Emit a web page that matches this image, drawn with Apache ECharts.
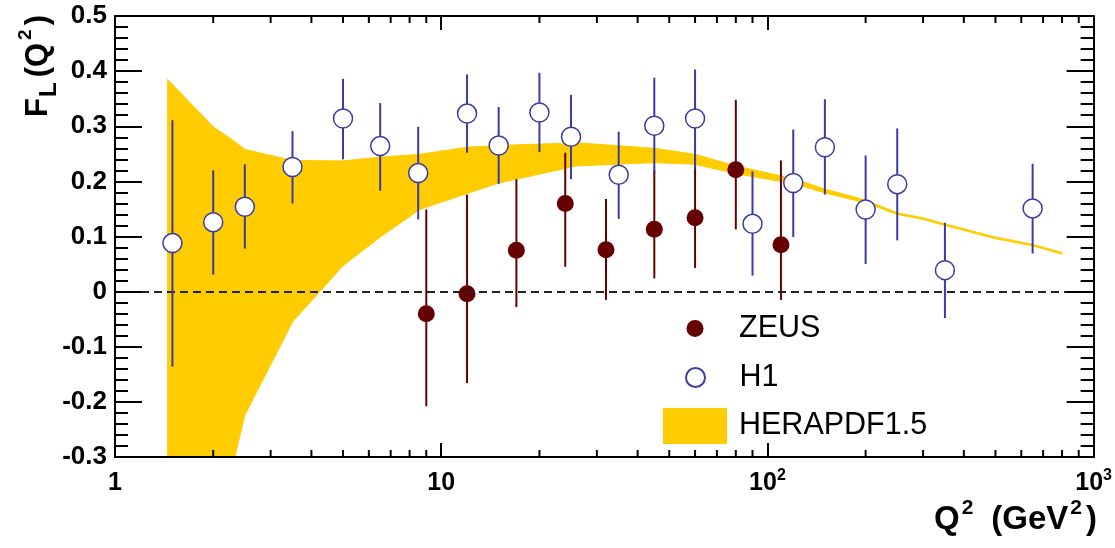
<!DOCTYPE html>
<html>
<head>
<meta charset="utf-8">
<script src="https://cdn.jsdelivr.net/npm/echarts@6/dist/echarts.min.js"></script>
<style>
html,body{margin:0;padding:0;background:#fff;}
#chart{width:1115px;height:548px;}
</style>
</head>
<body>
<div id="chart"></div>
<script>
// ---- data ----
const h1Q2   = [1.5, 2.0, 2.5, 3.5, 5.0, 6.5, 8.5, 12, 15, 20, 25, 35, 45, 60, 90, 120, 150, 200, 250, 350, 650];
const h1FL   = [0.088, 0.126, 0.154, 0.226, 0.314, 0.264, 0.215, 0.323, 0.265, 0.325, 0.281, 0.212, 0.301, 0.314, 0.123, 0.197, 0.262, 0.149, 0.195, 0.039, 0.151];
const h1Low  = [-0.136, 0.031, 0.078, 0.160, 0.240, 0.183, 0.131, 0.252, 0.195, 0.253, 0.204, 0.132, 0.215, 0.223, 0.029, 0.099, 0.176, 0.050, 0.093, -0.048, 0.069];
const h1High = [0.311, 0.220, 0.231, 0.291, 0.386, 0.342, 0.299, 0.394, 0.335, 0.397, 0.357, 0.290, 0.388, 0.403, 0.218, 0.294, 0.349, 0.247, 0.296, 0.125, 0.232];

const zeusQ2   = [9, 12, 17, 24, 32, 45, 60, 80, 110];
const zeusFL   = [-0.040, -0.004, 0.075, 0.160, 0.076, 0.113, 0.134, 0.221, 0.085];
const zeusLow  = [-0.208, -0.166, -0.028, 0.045, -0.015, 0.024, 0.043, 0.113, -0.015];
const zeusHigh = [0.149, 0.176, 0.204, 0.252, 0.168, 0.220, 0.230, 0.348, 0.238];

const bandQ2   = [1.45, 2.0, 2.33, 2.5, 3.5, 5, 6.5, 8.6, 12, 15, 26, 45, 60, 80, 120, 150, 200, 250, 300, 350, 500, 650, 800];
const bandHigh = [0.385, 0.299, 0.272, 0.258, 0.238, 0.237, 0.244, 0.249, 0.262, 0.265, 0.270, 0.260, 0.249, 0.228, 0.205, 0.186, 0.166, 0.143, 0.134, 0.123, 0.099, 0.086, 0.071];
const bandLow  = [-0.3, -0.3, -0.3, -0.224, -0.055, 0.047, 0.099, 0.149, 0.178, 0.197, 0.228, 0.234, 0.231, 0.214, 0.196, 0.179, 0.161, 0.140, 0.131, 0.120, 0.096, 0.083, 0.068];

const xMin = 1, xMax = 1000;
const yMin = -0.3, yMax = 0.5, yStep = 0.1;
const xMinorTicks = [2, 3, 4, 5, 6, 7, 8, 9, 20, 30, 40, 50, 60, 70, 80, 90, 200, 300, 400, 500, 600, 700, 800, 900];

// ---- styles ----
const FONT = 'Liberation Sans, Arial, Helvetica, sans-serif';
const H1_COLOR = '#3b3ba3';
const ZEUS_COLOR = '#660000';
const BAND_COLOR = '#ffcc00';

const chart = echarts.init(document.getElementById('chart'), null, {renderer: 'canvas'});

function errRender(color) {
  return function (params, api) {
    const x = api.value(0), lo = api.value(1), hi = api.value(2);
    const p1 = api.coord([x, lo]), p2 = api.coord([x, hi]);
    return {type: 'line', shape: {x1: p1[0], y1: p1[1], x2: p2[0], y2: p2[1]},
            style: {stroke: color, lineWidth: 2}};
  };
}

const axisLineStyle = {color: '#000', width: 2};
const tickStyle = {color: '#000', width: 2};
const legendText = {fontFamily: FONT, fontSize: 30.5, color: '#000', padding: [0, 0, 0, 7]};

const option = {
  animation: false,
  backgroundColor: '#fff',
  grid: {left: 115, top: 16, width: 981, height: 441, containLabel: false},
  xAxis: [
    {
      type: 'log', logBase: 10, min: xMin, max: xMax, position: 'bottom', z: 10,
      axisLine: {show: true, onZero: false, lineStyle: axisLineStyle},
      axisTick: {show: true, inside: true, length: 14, lineStyle: tickStyle},
      splitLine: {show: false},
      axisLabel: {
        margin: 6, color: '#000',
        formatter: function (v) {
          const e = Math.round(Math.log10(v));
          if (e === 0) return '{m|1}';
          if (e === 1) return '{m|10}';
          return '{m|10}{s|' + e + '}';
        },
        rich: {
          m: {fontFamily: FONT, fontWeight: 'bold', fontSize: 25, lineHeight: 40, color: '#000'},
          s: {fontFamily: FONT, fontWeight: 'bold', fontSize: 16, lineHeight: 16, color: '#000', padding: [0, 0, 15, 0]}
        }
      }
    },
    {
      type: 'log', logBase: 10, min: xMin, max: xMax, position: 'top', z: 10,
      axisLine: {show: true, onZero: false, lineStyle: axisLineStyle},
      axisTick: {show: true, inside: true, length: 14, lineStyle: tickStyle},
      axisLabel: {show: false}, splitLine: {show: false}
    }
  ],
  yAxis: [
    {
      type: 'value', min: yMin, max: yMax, interval: yStep, position: 'left', z: 10,
      axisLine: {show: true, onZero: false, lineStyle: axisLineStyle},
      axisTick: {show: true, inside: true, length: 27, lineStyle: tickStyle},
      minorTick: {show: true, splitNumber: 5, length: 13, lineStyle: tickStyle},
      splitLine: {show: false},
      axisLabel: {
        margin: 8, color: '#000', fontFamily: FONT, fontWeight: 'bold', fontSize: 26,
        formatter: function (v) { return Math.abs(v) < 1e-9 ? '0' : v.toFixed(1); }
      }
    },
    {
      type: 'value', min: yMin, max: yMax, interval: yStep, position: 'right', z: 10,
      axisLine: {show: true, onZero: false, lineStyle: axisLineStyle},
      axisTick: {show: true, inside: true, length: 27, lineStyle: tickStyle},
      minorTick: {show: true, splitNumber: 5, length: 13, lineStyle: tickStyle},
      splitLine: {show: false}, axisLabel: {show: false}
    }
  ],
  legend: [
    {data: [{name: 'ZEUS'}], left: 686.5, top: 313, padding: 0, itemWidth: 64, itemHeight: 17, selectedMode: false,
     textStyle: legendText},
    {data: [{name: 'H1'}], left: 685, top: 362, padding: 0, itemWidth: 64, itemHeight: 19, selectedMode: false,
     textStyle: legendText},
    {data: [{name: 'HERAPDF1.5', icon: 'rect'}], left: 663, top: 408, padding: 0, itemWidth: 64, itemHeight: 36, selectedMode: false,
     textStyle: legendText}
  ],
  series: [
    {
      name: 'zero', type: 'line', data: [], z: 1, silent: true,
      markLine: {
        silent: true, symbol: 'none', label: {show: false},
        lineStyle: {color: '#222', width: 1.8, type: [8, 5]},
        data: [{yAxis: 0}]
      }
    },
    {
      name: 'HERAPDF1.5', type: 'custom', z: 2, silent: true,
      itemStyle: {color: BAND_COLOR},
      data: bandQ2.map((q, i) => [q, bandLow[i], bandHigh[i]]),
      encode: {x: 0, y: [1, 2]},
      renderItem: function (params, api) {
        if (params.dataIndex !== 0) return null;
        const pts = [];
        for (let i = 0; i < bandQ2.length; i++) pts.push(api.coord([bandQ2[i], bandHigh[i]]));
        for (let i = bandQ2.length - 1; i >= 0; i--) pts.push(api.coord([bandQ2[i], bandLow[i]]));
        return {type: 'polygon', shape: {points: pts}, style: {fill: BAND_COLOR, stroke: BAND_COLOR, lineWidth: 1}};
      }
    },
    {
      name: 'zeusErr', type: 'custom', z: 3, silent: true,
      data: zeusQ2.map((q, i) => [q, zeusLow[i], zeusHigh[i]]),
      encode: {x: 0, y: [1, 2]},
      renderItem: errRender(ZEUS_COLOR)
    },
    {
      name: 'ZEUS', type: 'scatter', z: 4, symbol: 'circle', symbolSize: 17,
      itemStyle: {color: ZEUS_COLOR, opacity: 1},
      data: zeusQ2.map((q, i) => [q, zeusFL[i]])
    },
    {
      name: 'h1Err', type: 'custom', z: 5, silent: true,
      data: h1Q2.map((q, i) => [q, h1Low[i], h1High[i]]),
      encode: {x: 0, y: [1, 2]},
      renderItem: errRender(H1_COLOR)
    },
    {
      name: 'H1', type: 'scatter', z: 6, symbol: 'circle', symbolSize: 19,
      itemStyle: {color: '#ffffff', borderColor: H1_COLOR, borderWidth: 1.5, opacity: 1},
      data: h1Q2.map((q, i) => [q, h1FL[i]])
    },
    {
      name: 'minorTicks', type: 'custom', z: 11, silent: true,
      data: xMinorTicks.map(v => [v, yMin, yMax]),
      encode: {x: 0, y: [1, 2]},
      renderItem: function (params, api) {
        const v = api.value(0);
        const b = api.coord([v, yMin]);
        const t = api.coord([v, yMax]);
        return {type: 'group', children: [
          {type: 'line', shape: {x1: b[0], y1: b[1], x2: b[0], y2: b[1] - 7}, style: {stroke: '#000', lineWidth: 2}},
          {type: 'line', shape: {x1: t[0], y1: t[1], x2: t[0], y2: t[1] + 7}, style: {stroke: '#000', lineWidth: 2}}
        ]};
      }
    }
  ],
  graphic: [
    {
      type: 'text', x: 1097, y: 520, z: 20,
      style: {
        text: '{q|Q}{p|2}{o|(}{q|GeV}{p2|2}{c|)}',
        align: 'right', verticalAlign: 'middle',
        rich: {
          q: {fontFamily: FONT, fontWeight: 'bold', fontSize: 33, fill: '#000'},
          o: {fontFamily: FONT, fontWeight: 'bold', fontSize: 33, fill: '#000', padding: [0, 0, 0, 18]},
          c: {fontFamily: FONT, fontWeight: 'bold', fontSize: 33, fill: '#000', padding: [0, 0, 0, 4]},
          p: {fontFamily: FONT, fontWeight: 'bold', fontSize: 21, fill: '#000', padding: [0, 0, 24, 2]},
          p2: {fontFamily: FONT, fontWeight: 'bold', fontSize: 21, fill: '#000', padding: [0, 0, 24, 2]}
        }
      }
    },
    {
      type: 'text', x: 38, y: 15, rotation: Math.PI / 2, z: 20,
      style: {
        text: '{f|F}{s|L}{o|(}{f|Q}{p|2}{c|)}',
        align: 'right', verticalAlign: 'middle',
        rich: {
          f: {fontFamily: FONT, fontWeight: 'bold', fontSize: 31, fill: '#000'},
          o: {fontFamily: FONT, fontWeight: 'bold', fontSize: 31, fill: '#000', padding: [0, 0, 0, 5]},
          c: {fontFamily: FONT, fontWeight: 'bold', fontSize: 31, fill: '#000', padding: [0, 0, 0, 4]},
          s: {fontFamily: FONT, fontWeight: 'bold', fontSize: 24, fill: '#000', padding: [22, 0, 0, 1]},
          p: {fontFamily: FONT, fontWeight: 'bold', fontSize: 19, fill: '#000', padding: [0, 0, 24, 3]}
        }
      }
    }
  ]
};

chart.setOption(option);
</script>
</body>
</html>
